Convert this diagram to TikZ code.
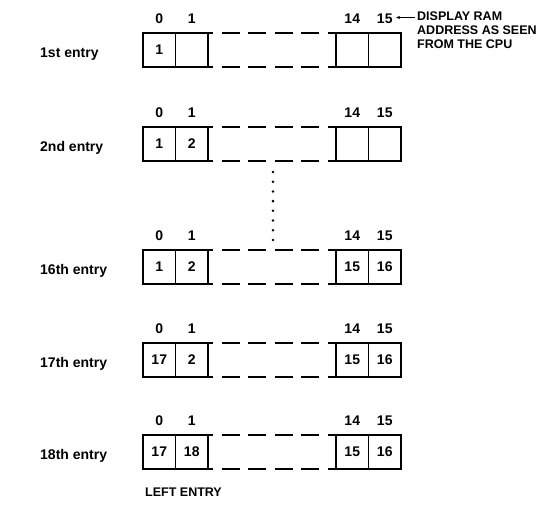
\documentclass[tikz,border=0pt]{standalone}
\usepackage{fontspec}
\setmainfont{Liberation Sans}
\usetikzlibrary{positioning,arrows.meta}

\begin{document}
\begin{tikzpicture}[
    x=1pt, y=-1pt,
    cell/.style={draw, line width=1.1pt, minimum width=32.5pt, minimum height=34pt, inner sep=0pt, outer sep=0pt, font=\fontsize{14}{16}\selectfont\bfseries},
    idx/.style={inner sep=0pt, font=\fontsize{14}{16}\selectfont\bfseries},
    entry/.style={anchor=west, inner sep=0pt, font=\fontsize{14}{16}\selectfont\bfseries},
    caps/.style={inner sep=0pt, align=left, font=\fontsize{12.5}{14}\selectfont\bfseries},
    rim/.style={line width=2pt},
    gap/.style={line width=2pt, dash pattern=on 18pt off 8.5pt, dash phase=13pt},
    ptr/.style={-{Latex[length=4pt,width=3.5pt]}, line width=0.9pt},
    dots/.style={line width=2.8pt, line cap=round, dash pattern=on 0pt off 9.7pt}
]
\useasboundingbox (0,0) rectangle (548,504);
% 1st entry
\node[entry] (la) at (40,54) {1st entry};
\node[cell] (a0) at (159.25,50) {1};
\node[cell, right=0pt of a0] (a1) {};
\node[cell] (a14) at (352.25,50) {};
\node[cell, right=0pt of a14] (a15) {};
\node[idx, above=9pt of a0] (ha0) {0};
\node[idx, above=9pt of a1] (ha1) {1};
\node[idx, above=9pt of a14] (ha14) {14};
\node[idx, above=9pt of a15] (ha15) {15};
\draw[rim] (a1.north east) -- (a0.north west) -- (a0.south west) -- (a1.south east);
\draw[rim] (a14.north west) -- (a15.north east) -- (a15.south east) -- (a14.south west);
\draw[gap] (a1.north east) -- (a14.north west);
\draw[gap] (a1.south east) -- (a14.south west);
\node[caps, anchor=north west] (ram) at (417,12) {DISPLAY RAM\\ADDRESS AS SEEN\\FROM THE CPU};
\draw[ptr, shorten >=5pt] ([shift={(-2pt,-5.5pt)}]ram.north west) -- ([shift={(-2pt,-5.5pt)}]ram.north west -| ha15.east);
% 2nd entry
\node[entry] (lb) at (40,148) {2nd entry};
\node[cell] (b0) at (159.25,144) {1};
\node[cell, right=0pt of b0] (b1) {2};
\node[cell] (b14) at (352.25,144) {};
\node[cell, right=0pt of b14] (b15) {};
\node[idx, above=9pt of b0] (hb0) {0};
\node[idx, above=9pt of b1] (hb1) {1};
\node[idx, above=9pt of b14] (hb14) {14};
\node[idx, above=9pt of b15] (hb15) {15};
\draw[rim] (b1.north east) -- (b0.north west) -- (b0.south west) -- (b1.south east);
\draw[rim] (b14.north west) -- (b15.north east) -- (b15.south east) -- (b14.south west);
\draw[gap] (b1.north east) -- (b14.north west);
\draw[gap] (b1.south east) -- (b14.south west);
% entries skipped
\coordinate (vtop) at (273,172);
\coordinate (vbot) at (273,240);
\draw[dots] (vtop) -- (vbot);
% 16th entry
\node[entry] (lc) at (40,271) {16th entry};
\node[cell] (c0) at (159.25,267) {1};
\node[cell, right=0pt of c0] (c1) {2};
\node[cell] (c14) at (352.25,267) {15};
\node[cell, right=0pt of c14] (c15) {16};
\node[idx, above=9pt of c0] (hc0) {0};
\node[idx, above=9pt of c1] (hc1) {1};
\node[idx, above=9pt of c14] (hc14) {14};
\node[idx, above=9pt of c15] (hc15) {15};
\draw[rim] (c1.north east) -- (c0.north west) -- (c0.south west) -- (c1.south east);
\draw[rim] (c14.north west) -- (c15.north east) -- (c15.south east) -- (c14.south west);
\draw[gap] (c1.north east) -- (c14.north west);
\draw[gap] (c1.south east) -- (c14.south west);
% 17th entry
\node[entry] (ld) at (40,364) {17th entry};
\node[cell] (d0) at (159.25,360) {17};
\node[cell, right=0pt of d0] (d1) {2};
\node[cell] (d14) at (352.25,360) {15};
\node[cell, right=0pt of d14] (d15) {16};
\node[idx, above=9pt of d0] (hd0) {0};
\node[idx, above=9pt of d1] (hd1) {1};
\node[idx, above=9pt of d14] (hd14) {14};
\node[idx, above=9pt of d15] (hd15) {15};
\draw[rim] (d1.north east) -- (d0.north west) -- (d0.south west) -- (d1.south east);
\draw[rim] (d14.north west) -- (d15.north east) -- (d15.south east) -- (d14.south west);
\draw[gap] (d1.north east) -- (d14.north west);
\draw[gap] (d1.south east) -- (d14.south west);
% 18th entry
\node[entry] (le) at (40,456) {18th entry};
\node[cell] (e0) at (159.25,452) {17};
\node[cell, right=0pt of e0] (e1) {18};
\node[cell] (e14) at (352.25,452) {15};
\node[cell, right=0pt of e14] (e15) {16};
\node[idx, above=9pt of e0] (he0) {0};
\node[idx, above=9pt of e1] (he1) {1};
\node[idx, above=9pt of e14] (he14) {14};
\node[idx, above=9pt of e15] (he15) {15};
\draw[rim] (e1.north east) -- (e0.north west) -- (e0.south west) -- (e1.south east);
\draw[rim] (e14.north west) -- (e15.north east) -- (e15.south east) -- (e14.south west);
\draw[gap] (e1.north east) -- (e14.north west);
\draw[gap] (e1.south east) -- (e14.south west);
\node[caps, below right=19pt and 2pt of e0.south west] (left) {LEFT ENTRY};
\end{tikzpicture}
\end{document}
